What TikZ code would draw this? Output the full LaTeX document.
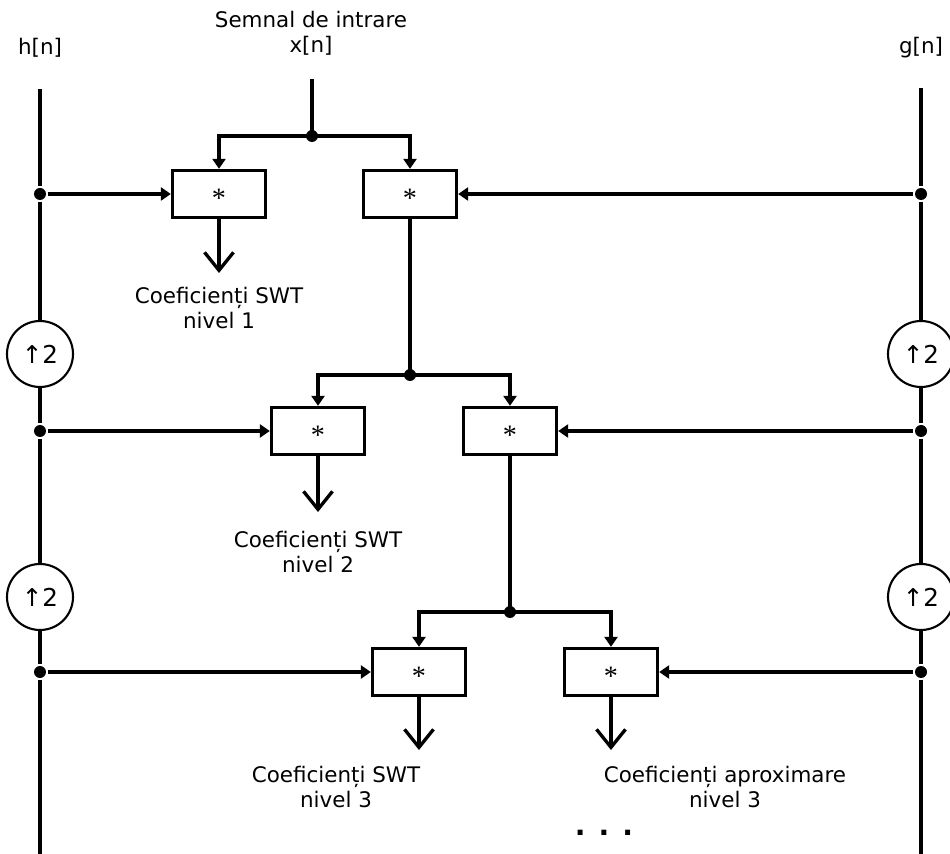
\documentclass[tikz,border=0pt]{standalone}
\usepackage{fontspec}
\setmainfont{DejaVu Sans}
\newfontfamily\starfont{Liberation Serif}
\usetikzlibrary{arrows.meta, positioning}
\tikzset{>={Triangle[length=2mm,width=2.6mm]}}

\begin{document}
\begin{tikzpicture}[x=0.02cm, y=-0.02cm, line width=1.9pt, filterbox/.style={rectangle, draw, minimum width=1.86cm, minimum height=0.94cm, inner sep=0pt, font=\starfont\fontsize{16}{16}\selectfont}, upnode/.style={circle, draw, line width=1.2pt, fill=white, minimum size=1.32cm, inner sep=0pt, font=\fontsize{14}{14}\selectfont}, jdot/.style={circle, fill, inner sep=0pt, minimum size=0.24cm}, textnode/.style={align=center, inner sep=0pt, font=\fontsize{12.2}{14}\selectfont}, outarrow/.style={-{Straight Barb[length=3.6mm,width=5.8mm]}}]
    \useasboundingbox (0,0) rectangle (950,854);

    %Texts
    \node[textnode](input) at (311,33) {Semnal de intrare\\x[n]};
    \node[textnode](h_text) at (40,48) {h[n]};
    \node[textnode](g_text) at (921,48) {g[n]};

    %Filter lines
    \coordinate (h_top) at (40,89);
    \coordinate (h_bot) at (40,854);
    \coordinate (g_top) at (921,88);
    \coordinate (g_bot) at (921,854);
    \node[jdot](h_d1) at (40,194) {};
    \node[upnode](h_up1) at (40,354) {↑2};
    \node[jdot](h_d2) at (40,431) {};
    \node[upnode](h_up2) at (40,597) {↑2};
    \node[jdot](h_d3) at (40,672) {};
    \node[jdot](g_d1) at (921,194) {};
    \node[upnode](g_up1) at (921,354) {↑2};
    \node[jdot](g_d2) at (921,431) {};
    \node[upnode](g_up2) at (921,597) {↑2};
    \node[jdot](g_d3) at (921,672) {};

    %Convolutions
    \coordinate (in_top) at (312,79);
    \node[jdot](j0) at (312,136) {};
    \node[filterbox](conv_h1) at (219,194) {\raisebox{-0.48em}[0pt][0pt]{*}};
    \node[filterbox](conv_g1) at (410,194) {\raisebox{-0.48em}[0pt][0pt]{*}};
    \node[jdot](j1) at (410,375) {};
    \node[filterbox](conv_h2) at (318,431) {\raisebox{-0.48em}[0pt][0pt]{*}};
    \node[filterbox](conv_g2) at (510,431) {\raisebox{-0.48em}[0pt][0pt]{*}};
    \node[jdot](j2) at (510,612) {};
    \node[filterbox](conv_h3) at (419,672) {\raisebox{-0.48em}[0pt][0pt]{*}};
    \node[filterbox](conv_g3) at (611,672) {\raisebox{-0.48em}[0pt][0pt]{*}};

    %Outputs
    \coordinate (out1) at (219,273);
    \coordinate (out2) at (318,512);
    \coordinate (out3) at (419,750);
    \coordinate (out4) at (611,750);
    \node[textnode](swt1) at (219,308) {Coeficienți SWT\\nivel 1};
    \node[textnode](swt2) at (318,552) {Coeficienți SWT\\nivel 2};
    \node[textnode](swt3) at (336,787) {Coeficienți SWT\\nivel 3};
    \node[textnode](approx3) at (725,787) {Coeficienți aproximare\\nivel 3};
    \node[textnode, font=\fontsize{16}{16}\bfseries](more) at (604,833) {. . .};

    %Lines
    \draw (h_top) -- (h_d1) -- (h_up1) -- (h_d2) -- (h_up2) -- (h_d3) -- (h_bot);
    \draw (g_top) -- (g_d1) -- (g_up1) -- (g_d2) -- (g_up2) -- (g_d3) -- (g_bot);
    \draw (in_top) -- (j0.center);
    \draw[->] (j0.center) -| (conv_h1);
    \draw[->] (j0.center) -| (conv_g1);
    \draw[->] (h_d1) -- (conv_h1);
    \draw[->] (g_d1) -- (conv_g1);
    \draw (conv_g1) -- (j1.center);
    \draw[->] (j1.center) -| (conv_h2);
    \draw[->] (j1.center) -| (conv_g2);
    \draw[->] (h_d2) -- (conv_h2);
    \draw[->] (g_d2) -- (conv_g2);
    \draw (conv_g2) -- (j2.center);
    \draw[->] (j2.center) -| (conv_h3);
    \draw[->] (j2.center) -| (conv_g3);
    \draw[->] (h_d3) -- (conv_h3);
    \draw[->] (g_d3) -- (conv_g3);
    \draw[outarrow] (conv_h1) -- (out1);
    \draw[outarrow] (conv_h2) -- (out2);
    \draw[outarrow] (conv_h3) -- (out3);
    \draw[outarrow] (conv_g3) -- (out4);

\end{tikzpicture}
\end{document}
